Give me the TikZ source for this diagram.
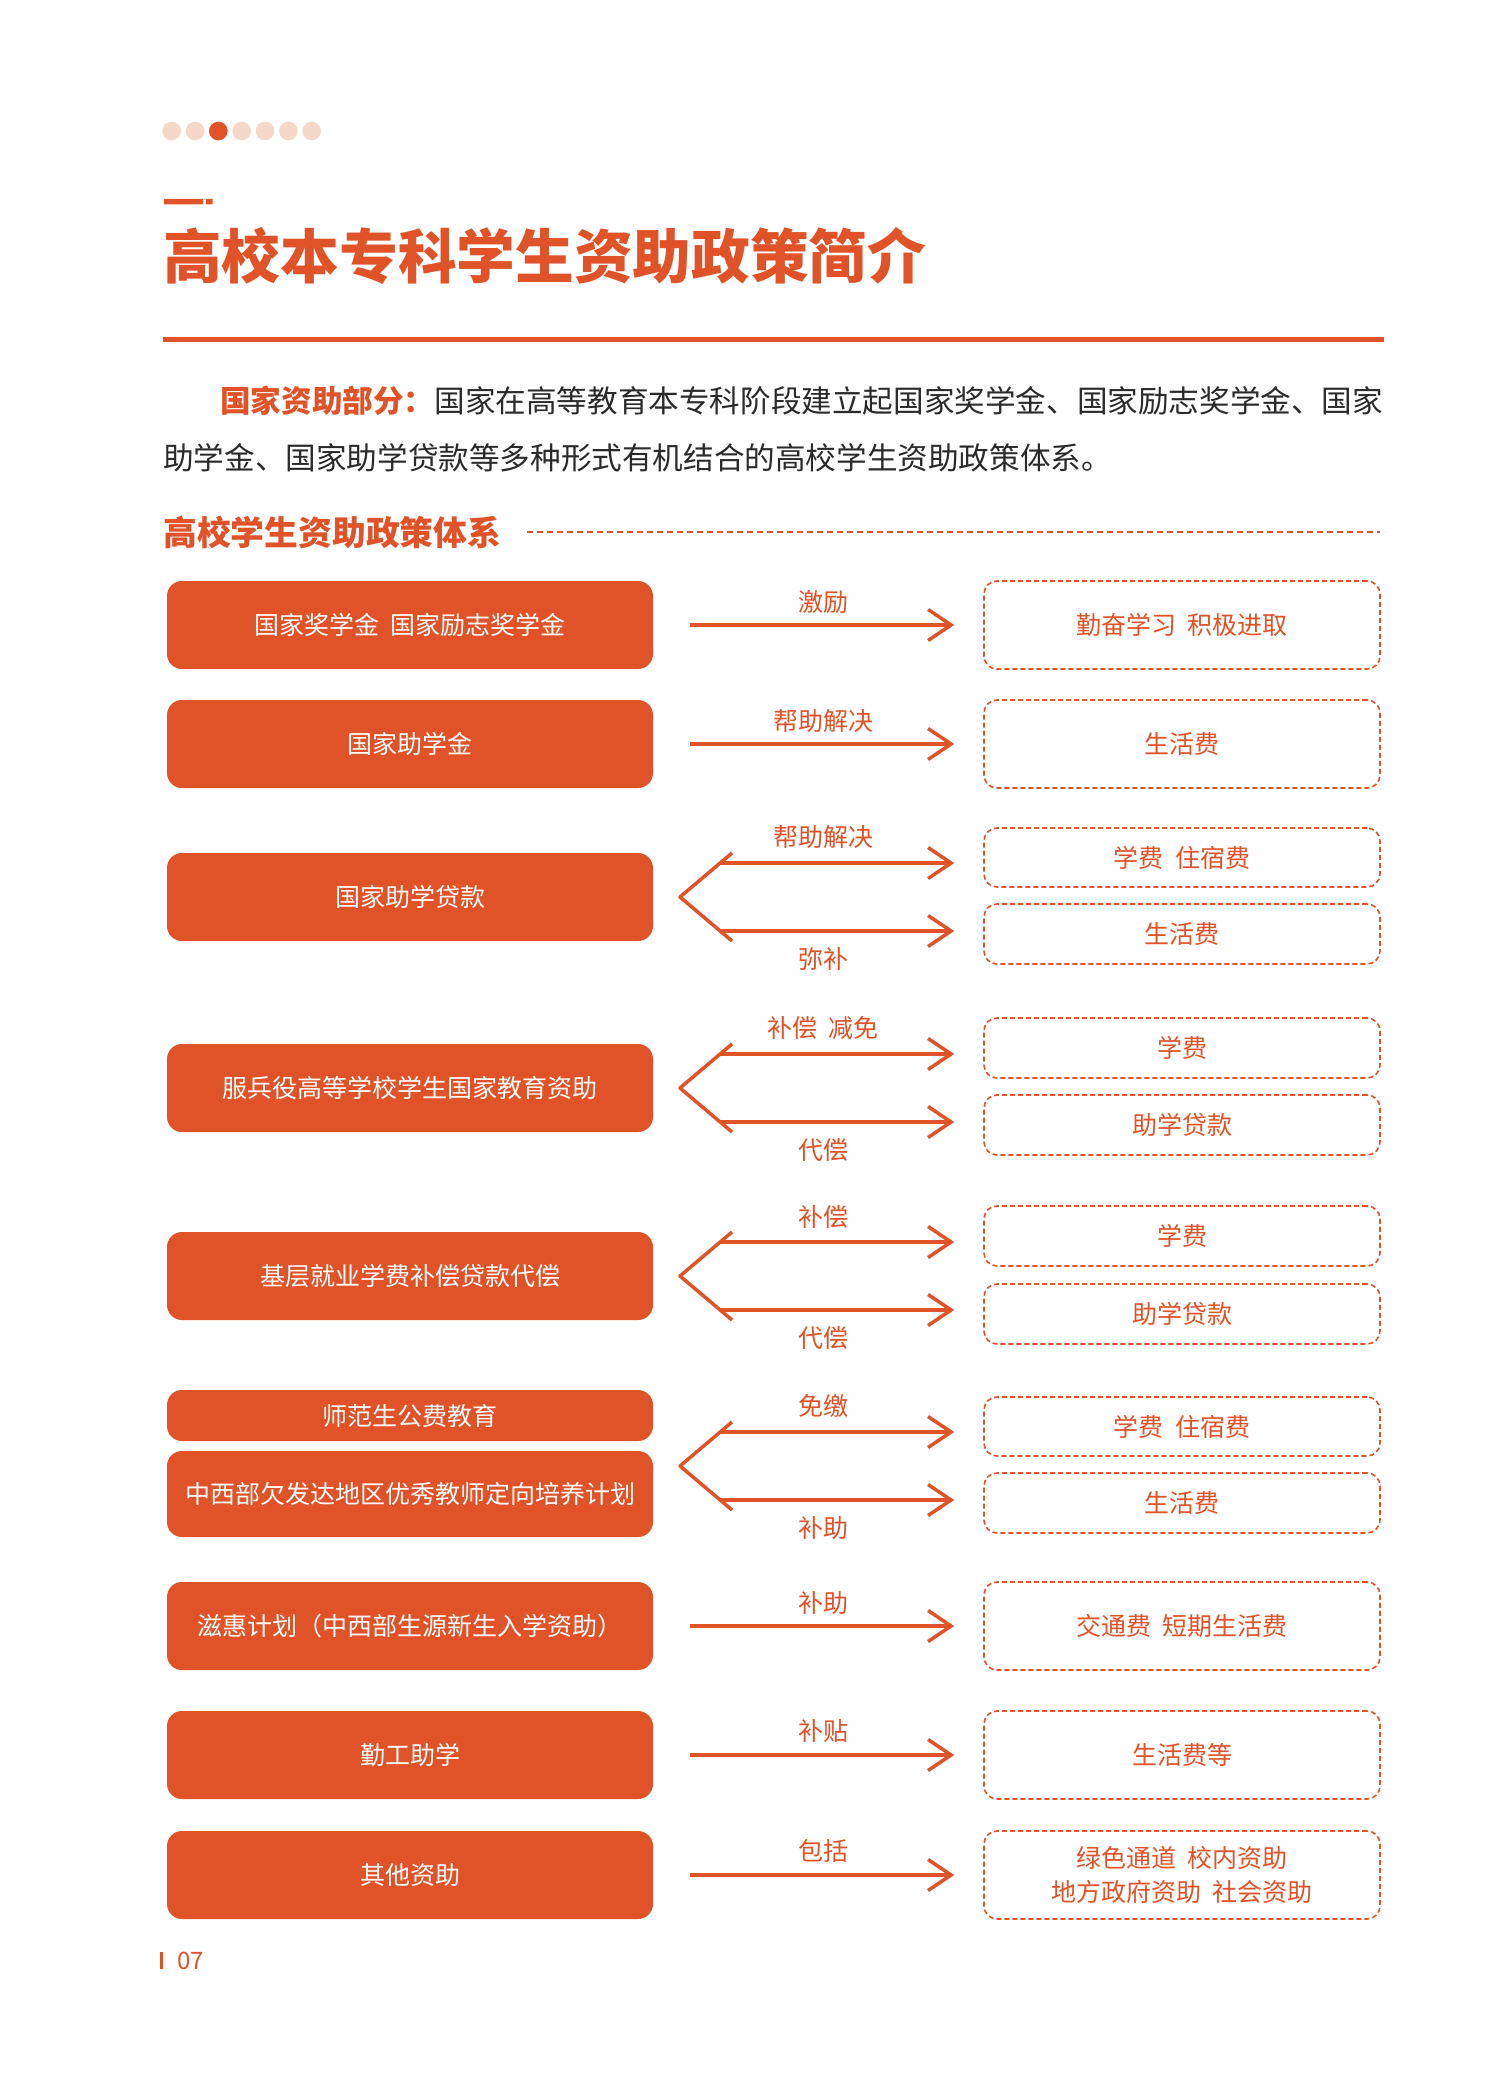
\documentclass[tikz,border=0pt]{standalone}
\usepackage{fontspec}
\setmainfont{Noto Sans CJK SC}
\usetikzlibrary{arrows.meta,calc}
\definecolor{zhorange}{HTML}{E05228}
\definecolor{zhpale}{HTML}{F6D7C8}
\definecolor{zhink}{HTML}{2A2A2A}
\newcommand\fsz[2]{\fontsize{#1}{#2}\selectfont}
\newcommand\zgap{\hspace{.45em}}

\begin{document}
\begin{tikzpicture}[x=1pt,y=-1pt,
 lbox/.style={fill=zhorange,rounded corners=15pt,text=white,font=\fsz{25}{30},minimum width=486pt,minimum height=88pt,inner sep=0pt},
 rbox/.style={draw=zhorange,line width=1.6pt,dash pattern=on 5pt off 3pt,rounded corners=13pt,text=zhorange,font=\fsz{25}{34},minimum width=396pt,minimum height=88pt,inner sep=0pt,align=center},
 lbl/.style={text=zhorange,font=\fsz{25}{30},inner sep=0pt},
 arr/.style={draw=zhorange,line width=3.5pt,shorten >=29pt,-{Straight Barb[length=23pt,width=31pt]}},
 chev/.style={draw=zhorange,line width=3.5pt,line join=round}]
 \fill[white] (0,0) rectangle (1504,2095);
 \useasboundingbox (0,0) rectangle (1504,2095);

 % page head
 \foreach \i in {0,...,6} \fill[zhpale] (171.7+23.33*\i,131) circle (9.3pt);
 \fill[zhorange] (218.3,131) circle (9.3pt);
 \fill[zhorange] (164,199) rectangle (203,204.5) (206,199) rectangle (212.5,204.5);
 \node[anchor=west,inner sep=0pt,text=zhorange,font=\bfseries\fsz{58.7}{60}] (title) at (163,256) {高校本专科学生资助政策简介};
 \fill[zhorange] (163,336.5) rectangle (1384,342);
 \node[anchor=west,inner sep=0pt,text=zhink,font=\fsz{30.6}{36}] (para1) at (220,401) {{\bfseries\color{zhorange}国家资助部分：}国家在高等教育本专科阶段建立起国家奖学金、国家励志奖学金、国家};
 \node[anchor=west,inner sep=0pt,text=zhink,font=\fsz{30.6}{36}] (para2) at (163,458) {助学金、国家助学贷款等多种形式有机结合的高校学生资助政策体系。};
 \node[anchor=west,inner sep=0pt,text=zhorange,font=\bfseries\fsz{33.8}{40}] (head) at (163,532) {高校学生资助政策体系};
 \coordinate (headend) at (1380,532);
 \draw[zhorange,line width=1.3pt,dash pattern=on 6pt off 4pt] ($(head.east)+(26,0)$) -- (headend);

 % row 1
 \node[lbox] (jxj) at (410,625) {国家奖学金\zgap 国家励志奖学金};
 \node[rbox] (qfxx) at (1182,625) {勤奋学习\zgap 积极进取};
 \draw[arr,shorten <=37pt] (jxj) -- (qfxx);
 \node[lbl] (m1) at (823,602) {激励};

 % row 2
 \node[lbox] (zxj) at (410,744) {国家助学金};
 \node[rbox] (shf) at (1182,744) {生活费};
 \draw[arr,shorten <=37pt] (zxj) -- (shf);
 \node[lbl] (m2) at (823,721) {帮助解决};

 % row 3
 \node[lbox] (dk) at (410,897) {国家助学贷款};
 \node[rbox,minimum height=59pt] (dkxf) at (1182,857.5) {学费\zgap 住宿费};
 \node[rbox,minimum height=60pt] (dkshf) at (1182,934) {生活费};
 \coordinate (dkt) at (680,897);
 \coordinate (dku) at (720,863);
 \coordinate (dkd) at (720,931);
 \draw[chev] ($(dkt)+(52,-44)$) -- (dkt) -- ($(dkt)+(52,44)$);
 \draw[arr] (dku) -- (dku -| dkxf.west);
 \draw[arr] (dkd) -- (dkd -| dkshf.west);
 \node[lbl] (m3a) at (823,837) {帮助解决};
 \node[lbl] (m3b) at (823,959) {弥补};

 % row 4
 \node[lbox] (by) at (410,1088) {服兵役高等学校学生国家教育资助};
 \node[rbox,minimum height=60pt] (byxf) at (1182,1048) {学费};
 \node[rbox,minimum height=60pt] (bydk) at (1182,1125) {助学贷款};
 \coordinate (byt) at (680,1088);
 \coordinate (byu) at (720,1054);
 \coordinate (byd) at (720,1122);
 \draw[chev] ($(byt)+(52,-44)$) -- (byt) -- ($(byt)+(52,44)$);
 \draw[arr] (byu) -- (byu -| byxf.west);
 \draw[arr] (byd) -- (byd -| bydk.west);
 \node[lbl] (m4a) at (823,1028) {补偿\zgap 减免};
 \node[lbl] (m4b) at (823,1150) {代偿};

 % row 5
 \node[lbox] (jc) at (410,1276) {基层就业学费补偿贷款代偿};
 \node[rbox,minimum height=60pt] (jcxf) at (1182,1236) {学费};
 \node[rbox,minimum height=60pt] (jcdk) at (1182,1314) {助学贷款};
 \coordinate (jct) at (680,1276);
 \coordinate (jcu) at (720,1242);
 \coordinate (jcd) at (720,1310);
 \draw[chev] ($(jct)+(52,-44)$) -- (jct) -- ($(jct)+(52,44)$);
 \draw[arr] (jcu) -- (jcu -| jcxf.west);
 \draw[arr] (jcd) -- (jcd -| jcdk.west);
 \node[lbl] (m5a) at (823,1217) {补偿};
 \node[lbl] (m5b) at (823,1338) {代偿};

 % row 6
 \node[lbox,minimum height=51pt] (sf) at (410,1415.5) {师范生公费教育};
 \node[lbox,minimum height=86pt] (zx) at (410,1494) {中西部欠发达地区优秀教师定向培养计划};
 \node[rbox,minimum height=59pt] (sfxf) at (1182,1426.5) {学费\zgap 住宿费};
 \node[rbox,minimum height=60pt] (sfshf) at (1182,1503) {生活费};
 \coordinate (sft) at (680,1466);
 \coordinate (sfu) at (720,1432);
 \coordinate (sfd) at (720,1500);
 \draw[chev] ($(sft)+(52,-44)$) -- (sft) -- ($(sft)+(52,44)$);
 \draw[arr] (sfu) -- (sfu -| sfxf.west);
 \draw[arr] (sfd) -- (sfd -| sfshf.west);
 \node[lbl] (m6a) at (823,1406) {免缴};
 \node[lbl] (m6b) at (823,1528) {补助};

 % row 7
 \node[lbox] (zh) at (410,1626) {滋惠计划（中西部生源新生入学资助）};
 \node[rbox] (jtf) at (1182,1626) {交通费\zgap 短期生活费};
 \draw[arr,shorten <=37pt] (zh) -- (jtf);
 \node[lbl] (m7) at (823,1603) {补助};

 % row 8
 \node[lbox] (qg) at (410,1755) {勤工助学};
 \node[rbox] (shfd) at (1182,1755) {生活费等};
 \draw[arr,shorten <=37pt] (qg) -- (shfd);
 \node[lbl] (m8) at (823,1731) {补贴};

 % row 9
 \node[lbox] (qt) at (410,1875) {其他资助};
 \node[rbox] (lstd) at (1182,1875) {绿色通道\zgap 校内资助\\地方政府资助\zgap 社会资助};
 \draw[arr,shorten <=37pt] (qt) -- (lstd);
 \node[lbl] (m9) at (823,1851) {包括};

 % page number
 \fill[zhorange] (160,1952) rectangle (163,1969);
 \node[anchor=west,inner sep=0pt,text=zhorange,font=\fsz{24}{28}] (pg) at (177,1960.5) {07};
\end{tikzpicture}
\end{document}
